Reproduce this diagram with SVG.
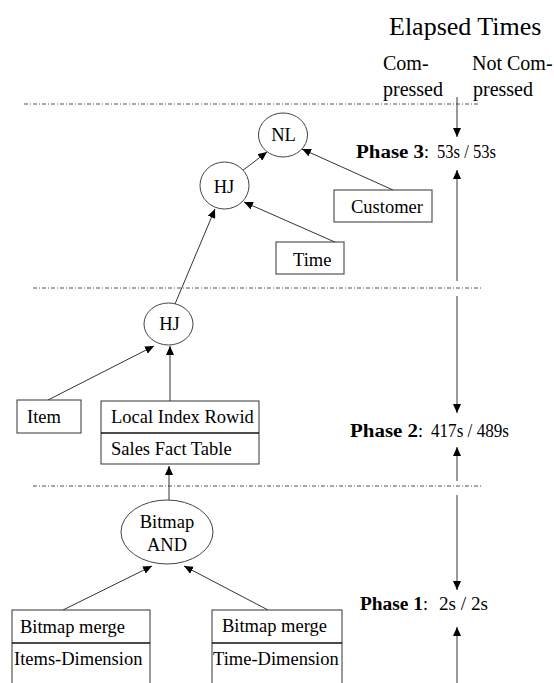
<svg xmlns="http://www.w3.org/2000/svg" width="554" height="683" viewBox="0 0 554 683" font-family="'Liberation Serif', Tinos, 'Times New Roman', Times, serif">
<style>
text{font-family:'Liberation Serif',Tinos,'Times New Roman',Times,serif;fill:#000}
.lbl{font-size:18.5px}
.hd{font-size:20px}
.ph{font-size:18px}
.b{font-weight:bold}
.box{fill:#fff;stroke:#333;stroke-width:1}
.div{stroke:#111;stroke-width:1.3}
.node{fill:#fff;stroke:#444;stroke-width:1}
.sep{stroke:#555;stroke-width:1;stroke-dasharray:4 2 1 2;fill:none}
.edge{stroke:#333;stroke-width:1;fill:none;marker-end:url(#ah)}
</style>
<defs>
<marker id="ah" markerUnits="userSpaceOnUse" markerWidth="10" markerHeight="8" refX="9" refY="4" orient="auto"><path d="M0,0 L9,4 L0,8 z" fill="#000"/></marker>
</defs>
<g id="separators">
<line class="sep" x1="24" y1="104" x2="480" y2="104"/>
<line class="sep" x1="33" y1="288" x2="482" y2="288"/>
<line class="sep" x1="33" y1="486" x2="482" y2="486"/>
</g>
<g id="header">
<text x="389" y="35" style="font-size:26px">Elapsed Times</text>
<text class="hd" x="383" y="70">Com-</text>
<text class="hd" x="383" y="96">pressed</text>
<text class="hd" x="472" y="70">Not Com-</text>
<text class="hd" x="473" y="96">pressed</text>
</g>
<g id="phases">
<text class="ph b" x="356" y="158" textLength="68" lengthAdjust="spacingAndGlyphs">Phase 3</text>
<text class="ph" x="424" y="158">:</text>
<text class="ph" x="437" y="158" textLength="59" lengthAdjust="spacingAndGlyphs">53s / 53s</text>
<text class="ph b" x="350" y="437" textLength="68" lengthAdjust="spacingAndGlyphs">Phase 2</text>
<text class="ph" x="418" y="437">:</text>
<text class="ph" x="431" y="437" textLength="78" lengthAdjust="spacingAndGlyphs">417s / 489s</text>
<text class="ph b" x="360" y="610" textLength="63" lengthAdjust="spacingAndGlyphs">Phase 1</text>
<text class="ph" x="423" y="610">:</text>
<text class="ph" x="439" y="610" textLength="49" lengthAdjust="spacingAndGlyphs">2s / 2s</text>
</g>
<g id="connectors">
<path class="edge" d="M242,171 L267,152"/>
<path class="edge" d="M393,190 L302,149"/>
<path class="edge" d="M337,243 L244,202"/>
<path class="edge" d="M175,304 L215,209"/>
<path class="edge" d="M48,400 L154,346"/>
<path class="edge" d="M170,401 L170,346"/>
<path class="edge" d="M169,500 L169,466"/>
<path class="edge" d="M63,610 L152,566"/>
<path class="edge" d="M268,610 L184,566"/>
<path class="edge" d="M457,97 L457,137"/>
<path class="edge" d="M457,281 L457,170"/>
<path class="edge" d="M457,296 L457,413"/>
<path class="edge" d="M457,481 L457,447"/>
<path class="edge" d="M457,495 L457,590"/>
<path class="edge" d="M457,683 L457,627"/>
</g>
<g id="nl">
<ellipse class="node" cx="283" cy="135" rx="24.5" ry="22"/>
<text class="lbl" x="283.5" y="141" text-anchor="middle">NL</text>
</g>
<g id="hj-top">
<ellipse class="node" cx="224.5" cy="185.5" rx="24.5" ry="23.5"/>
<text class="lbl" x="224" y="193" text-anchor="middle">HJ</text>
</g>
<g id="customer">
<rect class="box" x="334" y="190" width="98" height="32"/>
<text class="lbl" x="351" y="213">Customer</text>
</g>
<g id="time">
<rect class="box" x="276" y="242" width="68" height="32"/>
<text class="lbl" x="293" y="266">Time</text>
</g>
<g id="hj-mid">
<ellipse class="node" cx="168.5" cy="324" rx="24.5" ry="21"/>
<text class="lbl" x="169.5" y="330" text-anchor="middle">HJ</text>
</g>
<g id="item">
<rect class="box" x="17" y="400" width="64" height="33"/>
<text class="lbl" x="27" y="423">Item</text>
</g>
<g id="sales">
<rect class="box" x="101" y="401" width="158" height="63"/>
<line class="div" x1="101" y1="433" x2="259" y2="433"/>
<text class="lbl" x="111" y="423">Local Index Rowid</text>
<text class="lbl" x="111" y="455">Sales Fact Table</text>
</g>
<g id="bitmap-and">
<ellipse class="node" cx="167" cy="532" rx="46" ry="32"/>
<text class="lbl" x="167" y="528" text-anchor="middle">Bitmap</text>
<text class="lbl" x="167" y="551" text-anchor="middle">AND</text>
</g>
<g id="items-dim">
<rect class="box" x="12" y="610" width="138" height="90"/>
<line class="div" x1="12" y1="643" x2="150" y2="643"/>
<text class="lbl" x="20" y="633">Bitmap merge</text>
<text class="lbl" x="14" y="665">Items-Dimension</text>
</g>
<g id="time-dim">
<rect class="box" x="212" y="610" width="130" height="90"/>
<line class="div" x1="212" y1="643" x2="342" y2="643"/>
<text class="lbl" x="222" y="632">Bitmap merge</text>
<text class="lbl" x="213" y="665">Time-Dimension</text>
</g>
</svg>
